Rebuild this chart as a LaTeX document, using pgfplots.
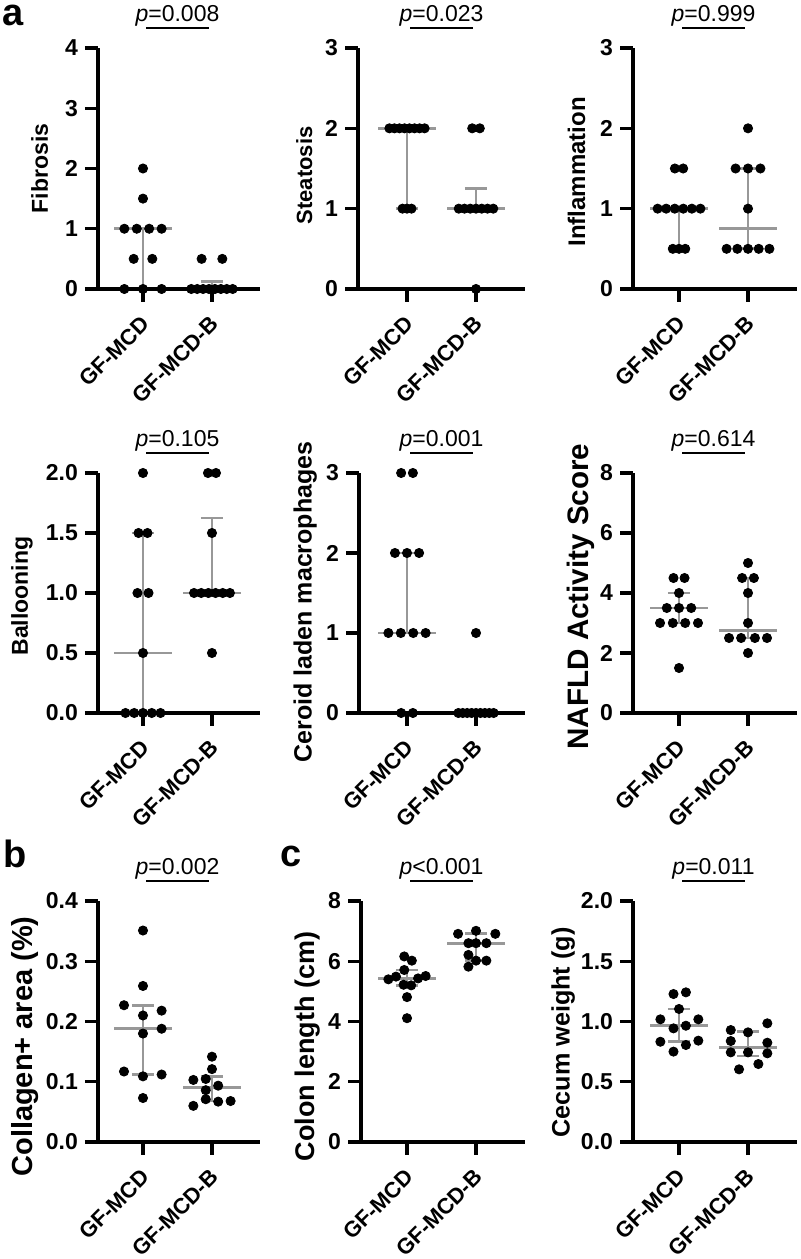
\documentclass[border=0pt]{standalone}
\usepackage{fontspec}
\setmainfont{Liberation Sans}
\usepackage{pgfplots}
\pgfplotsset{compat=1.18}
\usetikzlibrary{calc}
\definecolor{medgray}{RGB}{152,152,152}
\newcommand{\tl}{\bfseries\fontsize{11.5}{13}\selectfont}
\newcommand{\xl}{\bfseries\fontsize{11}{13}\selectfont}
\newcommand{\lb}[1]{\bfseries\fontsize{#1}{14}\selectfont}
\pgfplotsset{
  gp/.style={
    scale only axis, clip=false, axis on top,
    axis x line*=bottom, axis y line*=left,
    axis line style={line width=1.6pt,-},
    every outer x axis line/.append style={-},
    every outer y axis line/.append style={-},
    tick align=outside, major tick length=6.5pt,
    tick style={line width=1.6pt, black},
    xtick={0,1}, xticklabels={GF-MCD,GF-MCD-B},
    xticklabel style={font=\xl, inner sep=0pt, yshift=-9pt, xshift=1.5pt, rotate=45, anchor=east},
    yticklabel style={font=\tl},
    /pgf/number format/assume math mode=true,
    ymin=0, anchor=south west,
  },
  yl/.style n args={3}{ylabel style={font=\lb{#1}, at={($(rel axis cs:0,0.5)+(#2,#3)$)}, anchor=base}},
  dec/.style={yticklabel style={/pgf/number format/.cd, fixed, fixed zerofill, precision=1}},
  dots/.style={only marks, mark=*, mark size=2.3pt, black, mark options={draw=black, fill=black}},
  medline/.style={color=medgray, line width=1.35pt, forget plot},
}
\newcommand{\sumA}[3]{%
  \addplot[medline] coordinates {(-0.42,#1) (0.42,#1)};
  \addplot[medline] coordinates {(0,#2) (0,#3)};
  \addplot[medline] coordinates {(-0.16,#2) (0.16,#2)};
  \addplot[medline] coordinates {(-0.16,#3) (0.16,#3)};}
\newcommand{\sumB}[3]{%
  \addplot[medline] coordinates {(0.58,#1) (1.42,#1)};
  \addplot[medline] coordinates {(1,#2) (1,#3)};
  \addplot[medline] coordinates {(0.84,#2) (1.16,#2)};
  \addplot[medline] coordinates {(0.84,#3) (1.16,#3)};}
\newcommand{\pv}[1]{%
  \draw[line width=1.3pt] ({axis cs:0.05,0}|-{rel axis cs:0,1.083}) -- ({axis cs:0.95,0}|-{rel axis cs:0,1.083});
  \node[anchor=base, inner sep=0pt, font=\fontsize{11.5}{14}\selectfont] at ({axis cs:0.5,0}|-{rel axis cs:0,1.11}) {#1};}
\begin{document}
\begin{tikzpicture}
\useasboundingbox (0,0) rectangle (400pt,629.5pt);
\node[anchor=base west, inner sep=0pt, font=\bfseries\fontsize{19}{22}\selectfont] at (1pt,616.5pt) {a};
\node[anchor=base west, inner sep=0pt, font=\bfseries\fontsize{19}{22}\selectfont] at (1.5pt,195.5pt) {b};
\node[anchor=base west, inner sep=0pt, font=\bfseries\fontsize{19}{22}\selectfont] at (140pt,196pt) {c};

% ---------- Fibrosis
\begin{axis}[gp, yl={11.5}{-25pt}{0pt}, at={(49pt,485pt)}, width=81pt, height=120.5pt,
  xmin=-0.652, xmax=1.696, ymax=4, ytick={0,1,2,3,4}, ylabel={Fibrosis}]
\sumA{1}{0}{1}
\sumB{0}{0}{0.125}
\addplot[dots] coordinates {(0,2) (0,1.5) (-0.27,1) (-0.09,1) (0.09,1) (0.27,1) (-0.135,0.5) (0.135,0.5) (-0.27,0) (0,0) (0.27,0)};
\addplot[dots] coordinates {(0.85,0.5) (1.15,0.5) (0.70,0) (0.786,0) (0.871,0) (0.957,0) (1.043,0) (1.129,0) (1.214,0) (1.30,0)};
\pv{\textit{p}=0.008}
\end{axis}

% ---------- Steatosis
\begin{axis}[gp, yl={11}{-23pt}{-3.5pt}, at={(179pt,485pt)}, width=83.5pt, height=120.5pt,
  xmin=-0.71, xmax=1.71, ymax=3, ytick={0,1,2,3}, ylabel={Steatosis}]
\sumA{2}{1}{2}
\sumB{1}{1}{1.25}
\addplot[dots] coordinates {(-0.255,2) (-0.182,2) (-0.109,2) (-0.036,2) (0.036,2) (0.109,2) (0.182,2) (0.255,2) (-0.065,1) (0,1) (0.065,1)};
\addplot[dots] coordinates {(0.945,2) (1.055,2) (0.75,1) (0.833,1) (0.917,1) (1.0,1) (1.083,1) (1.167,1) (1.25,1) (1,0)};
\pv{\textit{p}=0.023}
\end{axis}

% ---------- Inflammation
\begin{axis}[gp, yl={12}{-24pt}{-1.75pt}, at={(316.5pt,485pt)}, width=82pt, height=120.5pt,
  xmin=-0.667, xmax=1.71, ymax=3, ytick={0,1,2,3}, ylabel={Inflammation}]
\sumA{1}{0.5}{1}
\sumB{0.75}{0.5}{1.5}
\addplot[dots] coordinates {(-0.06,1.5) (0.06,1.5) (-0.31,1) (-0.186,1) (-0.062,1) (0.062,1) (0.186,1) (0.31,1) (-0.09,0.5) (0,0.5) (0.09,0.5)};
\addplot[dots] coordinates {(1,2) (0.82,1.5) (1,1.5) (1.18,1.5) (1,1) (0.69,0.5) (0.845,0.5) (1,0.5) (1.155,0.5) (1.31,0.5)};
\pv{\textit{p}=0.999}
\end{axis}

% ---------- Ballooning
\begin{axis}[gp, dec, yl={11.5}{-35pt}{-1.5pt}, at={(49pt,273pt)}, width=81pt, height=120pt,
  xmin=-0.652, xmax=1.696, ymax=2, ytick={0,0.5,1,1.5,2}, ylabel={Ballooning}]
\sumA{0.5}{0}{1.5}
\sumB{1}{1}{1.625}
\addplot[dots] coordinates {(0,2) (-0.065,1.5) (0.065,1.5) (-0.08,1) (0.08,1) (0,0.5) (-0.254,0) (-0.127,0) (0,0) (0.127,0) (0.254,0)};
\addplot[dots] coordinates {(0.942,2) (1.058,2) (1,1.5) (0.74,1) (0.844,1) (0.948,1) (1.052,1) (1.156,1) (1.26,1) (1,0.5)};
\pv{\textit{p}=0.105}
\end{axis}

% ---------- Ceroid
\begin{axis}[gp, yl={12.5}{-23.75pt}{-4.5pt}, at={(179.5pt,273pt)}, width=83pt, height=120pt,
  xmin=-0.696, xmax=1.71, ymax=3, ytick={0,1,2,3}, ylabel={Ceroid laden macrophages}]
\sumA{1}{1}{2}
\addplot[medline] coordinates {(0.58,0) (1.42,0)};
\addplot[dots] coordinates {(-0.085,3) (0.085,3) (-0.175,2) (0,2) (0.175,2) (-0.27,1) (-0.09,1) (0.09,1) (0.27,1) (-0.085,0) (0.085,0)};
\addplot[dots] coordinates {(1,1) (0.744,0) (0.808,0) (0.872,0) (0.936,0) (1,0) (1.064,0) (1.128,0) (1.192,0) (1.256,0)};
\pv{\textit{p}=0.001}
\end{axis}

% ---------- NAFLD
\begin{axis}[gp, yl={14.8}{-22.3pt}{-1.75pt}, at={(316.5pt,273pt)}, width=82pt, height=120pt,
  xmin=-0.667, xmax=1.71, ymax=8, ytick={0,2,4,6,8}, ylabel={NAFLD Activity Score}]
\sumA{3.5}{3}{4}
\sumB{2.75}{2.5}{4.5}
\addplot[dots] coordinates {(-0.08,4.5) (0.08,4.5) (0,4) (-0.177,3.5) (0,3.5) (0.177,3.5) (-0.275,3) (-0.09,3) (0.09,3) (0.275,3) (0,1.5)};
\addplot[dots] coordinates {(1,5) (0.915,4.5) (1.085,4.5) (1,4) (1,3) (0.725,2.5) (0.9,2.5) (1.1,2.5) (1.275,2.5) (1,2)};
\pv{\textit{p}=0.614}
\end{axis}

% ---------- Collagen
\begin{axis}[gp, dec, yl={14.5}{-32.7pt}{-12.5pt}, at={(49pt,58.5pt)}, width=81pt, height=120.5pt,
  xmin=-0.652, xmax=1.696, ymax=0.4, ytick={0,0.1,0.2,0.3,0.4}, ylabel={Collagen+ area (\%)}]
\sumA{0.188}{0.112}{0.227}
\sumB{0.090}{0.068}{0.109}
\addplot[dots] coordinates {(0,0.351) (0,0.259) (-0.275,0.227) (0.27,0.218) (0,0.21) (0.27,0.188) (0,0.18) (-0.275,0.117) (0.27,0.112) (0,0.109) (0,0.073)};
\addplot[dots] coordinates {(1,0.1416) (1,0.121) (0.73,0.103) (0.91,0.1046) (1.09,0.0935) (0.91,0.086) (0.91,0.071) (1.09,0.067) (1.27,0.068) (0.73,0.060)};
\pv{\textit{p}=0.002}
\end{axis}

% ---------- Colon
\begin{axis}[gp, yl={13.5}{-23.3pt}{-12.5pt}, at={(180.5pt,58.5pt)}, width=82pt, height=120.5pt,
  xmin=-0.667, xmax=1.71, ymax=8, ytick={0,2,4,6,8}, ylabel={Colon length (cm)}]
\sumA{5.43}{5.20}{5.71}
\sumB{6.60}{6.02}{6.91}
\addplot[dots] coordinates {(-0.04,6.16) (0.07,6.02) (-0.04,5.71) (-0.27,5.40) (-0.16,5.49) (0.16,5.43) (0.27,5.51) (-0.05,5.22) (0.06,5.20) (0,4.81) (0,4.11)};
\addplot[dots] coordinates {(1,7.01) (0.74,6.91) (1.28,6.91) (0.89,6.60) (1,6.60) (1.15,6.60) (0.89,6.21) (1,6.02) (1.15,6.02) (0.89,5.82)};
\pv{\textit{p}<0.001}
\end{axis}

% ---------- Cecum
\begin{axis}[gp, dec, yl={12.6}{-31.7pt}{-5.5pt}, at={(316.5pt,58.5pt)}, width=82pt, height=120.5pt,
  xmin=-0.667, xmax=1.71, ymax=2, ytick={0,0.5,1,1.5,2}, ylabel={Cecum weight (g)}]
\sumA{0.965}{0.832}{1.104}
\sumB{0.784}{0.714}{0.915}
\addplot[dots] coordinates {(-0.08,1.228) (0.10,1.242) (0,1.104) (-0.27,1.018) (0.28,1.018) (-0.08,0.943) (0.10,0.965) (-0.27,0.832) (0.28,0.841) (0.10,0.805) (-0.08,0.750)};
\addplot[dots] coordinates {(1.28,0.985) (0.75,0.929) (1,0.910) (0.75,0.838) (1.28,0.824) (0.75,0.744) (1,0.744) (1.28,0.736) (1.15,0.647) (0.87,0.603)};
\pv{\textit{p}=0.011}
\end{axis}
\end{tikzpicture}
\end{document}
